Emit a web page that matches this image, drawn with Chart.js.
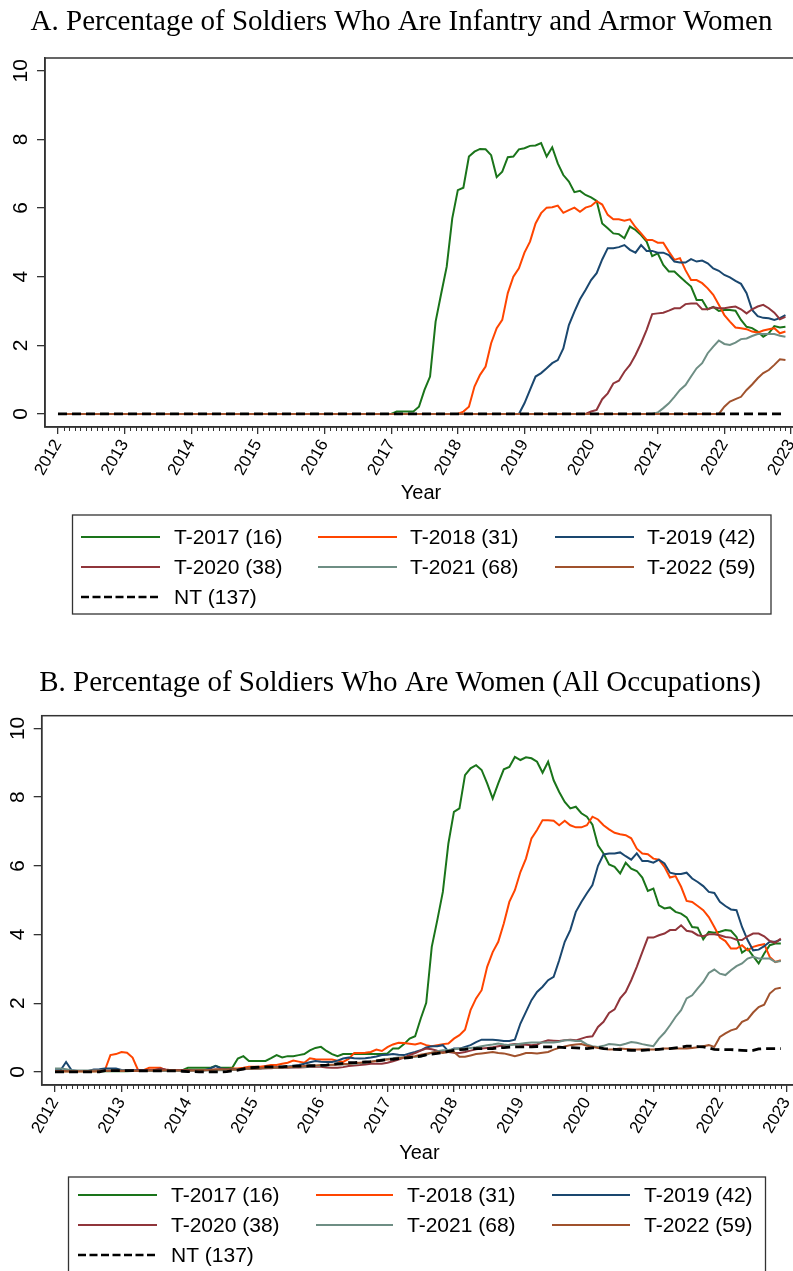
<!DOCTYPE html>
<html>
<head>
<meta charset="utf-8">
<script src="https://cdn.jsdelivr.net/npm/chart.js@4.4.0/dist/chart.umd.min.js"></script>
<style>
html,body{margin:0;padding:0;background:#fff;overflow:hidden;}
#wrap{width:793px;height:1271px;overflow:hidden;position:relative;}
canvas{display:block;}
</style>
</head>
<body>
<div id="wrap">
<canvas id="chartA" width="820" height="625"></canvas>
<canvas id="chartB" width="820" height="646"></canvas>
</div>
<script>
// tick labels
const yearTicks=[2012,2013,2014,2015,2016,2017,2018,2019,2020,2021,2022,2023];
const yearLabels=['2012','2013','2014','2015','2016','2017','2018','2019','2020','2021','2022','2023'];
const valueTicks=[0,2,4,6,8,10];
const valueLabels=['0','2','4','6','8','10'];

const seriesNames=['T-2017 (16)','T-2018 (31)','T-2019 (42)','T-2020 (38)','T-2021 (68)','T-2022 (59)','NT (137)'];
const seriesColors=['#1a741a','#ff4500','#1a476f','#90353b','#6e8e84','#a0522d','#000000'];

// monthly points, Jan 2012 .. Dec 2022, as decimal years
const monthPos=[];
for(let y=2012;y<=2022;y++){
    for(let m=0;m<12;m++){
        monthPos.push(y+m/12);
    }
}

// Panel A: infantry and armor women (%)
const infT2017=[
0,0,0,0,0,0,0,0,0,0,0,0,
0,0,0,0,0,0,0,0,0,0,0,0,
0,0,0,0,0,0,0,0,0,0,0,0,
0,0,0,0,0,0,0,0,0,0,0,0,
0,0,0,0,0,0,0,0,0,0,0,0,
0,0.07,0.07,0.07,0.07,0.21,0.7,1.09,2.69,3.5,4.29,5.7,
6.52,6.59,7.5,7.64,7.72,7.71,7.54,6.9,7.06,7.48,7.5,7.71,
7.74,7.81,7.82,7.89,7.5,7.77,7.3,6.96,6.77,6.46,6.5,6.38,
6.31,6.21,5.55,5.41,5.26,5.24,5.12,5.46,5.36,5.21,5.02,4.6,
4.68,4.34,4.15,4.15,4.0,3.85,3.71,3.32,3.32,3.05,3.12,3.0,
3.03,3.03,3.01,2.74,2.54,2.5,2.4,2.25,2.35,2.56,2.52,2.54];
const infT2018=[
0,0,0,0,0,0,0,0,0,0,0,0,
0,0,0,0,0,0,0,0,0,0,0,0,
0,0,0,0,0,0,0,0,0,0,0,0,
0,0,0,0,0,0,0,0,0,0,0,0,
0,0,0,0,0,0,0,0,0,0,0,0,
0,0,0,0,0,0,0,0,0,0,0,0,
0,0.07,0.21,0.8,1.14,1.38,2.06,2.5,2.74,3.52,4.0,4.24,
4.7,5.02,5.55,5.85,6.01,6.02,6.07,5.86,5.94,6.01,5.89,6.01,
6.06,6.2,6.1,5.8,5.67,5.67,5.63,5.67,5.44,5.26,5.07,5.07,
4.99,4.99,4.73,4.49,4.54,4.19,3.9,3.9,3.81,3.66,3.47,3.18,
2.88,2.69,2.52,2.5,2.47,2.4,2.37,2.43,2.47,2.5,2.35,2.4];
const infT2019=[
0,0,0,0,0,0,0,0,0,0,0,0,
0,0,0,0,0,0,0,0,0,0,0,0,
0,0,0,0,0,0,0,0,0,0,0,0,
0,0,0,0,0,0,0,0,0,0,0,0,
0,0,0,0,0,0,0,0,0,0,0,0,
0,0,0,0,0,0,0,0,0,0,0,0,
0,0,0,0,0,0,0,0,0,0,0,0,
0.31,0.7,1.09,1.19,1.33,1.48,1.57,1.91,2.59,2.98,3.34,3.61,
3.9,4.1,4.5,4.83,4.83,4.86,4.92,4.78,4.7,4.92,4.75,4.75,
4.7,4.7,4.63,4.44,4.41,4.41,4.51,4.44,4.47,4.39,4.24,4.17,
4.05,3.98,3.88,3.79,3.52,3.03,2.85,2.8,2.79,2.74,2.79,2.88];
const infT2020=[
0,0,0,0,0,0,0,0,0,0,0,0,
0,0,0,0,0,0,0,0,0,0,0,0,
0,0,0,0,0,0,0,0,0,0,0,0,
0,0,0,0,0,0,0,0,0,0,0,0,
0,0,0,0,0,0,0,0,0,0,0,0,
0,0,0,0,0,0,0,0,0,0,0,0,
0,0,0,0,0,0,0,0,0,0,0,0,
0,0,0,0,0,0,0,0,0,0,0,0,
0.07,0.12,0.43,0.6,0.89,0.97,1.23,1.43,1.72,2.06,2.45,2.91,
2.93,2.95,3.01,3.08,3.08,3.2,3.22,3.22,3.05,3.05,3.11,3.08,
3.08,3.11,3.13,3.05,2.93,3.05,3.13,3.18,3.08,2.95,2.76,2.83];
const infT2021=[
0,0,0,0,0,0,0,0,0,0,0,0,
0,0,0,0,0,0,0,0,0,0,0,0,
0,0,0,0,0,0,0,0,0,0,0,0,
0,0,0,0,0,0,0,0,0,0,0,0,
0,0,0,0,0,0,0,0,0,0,0,0,
0,0,0,0,0,0,0,0,0,0,0,0,
0,0,0,0,0,0,0,0,0,0,0,0,
0,0,0,0,0,0,0,0,0,0,0,0,
0,0,0,0,0,0,0,0,0,0,0,0,
0.04,0.17,0.31,0.5,0.7,0.84,1.09,1.33,1.48,1.77,1.96,2.14,
2.04,2.01,2.08,2.18,2.2,2.27,2.33,2.33,2.33,2.33,2.28,2.25];
const infT2022=[
0,0,0,0,0,0,0,0,0,0,0,0,
0,0,0,0,0,0,0,0,0,0,0,0,
0,0,0,0,0,0,0,0,0,0,0,0,
0,0,0,0,0,0,0,0,0,0,0,0,
0,0,0,0,0,0,0,0,0,0,0,0,
0,0,0,0,0,0,0,0,0,0,0,0,
0,0,0,0,0,0,0,0,0,0,0,0,
0,0,0,0,0,0,0,0,0,0,0,0,
0,0,0,0,0,0,0,0,0,0,0,0,
0,0,0,0,0,0,0,0,0,0,0,0,
0.21,0.36,0.43,0.5,0.7,0.86,1.04,1.19,1.28,1.43,1.59,1.57];
const infNT=[
0,0,0,0,0,0,0,0,0,0,0,0,
0,0,0,0,0,0,0,0,0,0,0,0,
0,0,0,0,0,0,0,0,0,0,0,0,
0,0,0,0,0,0,0,0,0,0,0,0,
0,0,0,0,0,0,0,0,0,0,0,0,
0,0,0,0,0,0,0,0,0,0,0,0,
0,0,0,0,0,0,0,0,0,0,0,0,
0,0,0,0,0,0,0,0,0,0,0,0,
0,0,0,0,0,0,0,0,0,0,0,0,
0,0,0,0,0,0,0,0,0,0,0,0,
0,0,0,0,0,0,0,0,0,0,0,0];

// Panel B: women, all occupations (%)
const allT2017=[
0.02,0.02,0.02,0.02,0.02,0.02,0.02,0.02,0.02,0.02,0.02,0.02,
0.02,0.02,0.03,0.03,0.03,0.03,0.03,0.03,0.03,0.03,0.03,0.05,
0.12,0.12,0.12,0.12,0.12,0.18,0.12,0.12,0.12,0.39,0.46,0.32,
0.32,0.32,0.32,0.4,0.49,0.42,0.46,0.46,0.49,0.52,0.63,0.7,
0.73,0.61,0.52,0.46,0.52,0.52,0.52,0.52,0.52,0.52,0.52,0.52,
0.54,0.68,0.68,0.81,0.97,1.04,1.55,2.01,3.64,4.42,5.24,6.65,
7.57,7.67,8.64,8.84,8.93,8.79,8.4,7.96,8.4,8.81,8.88,9.17,
9.08,9.16,9.13,9.03,8.71,9.03,8.49,8.15,7.86,7.67,7.72,7.53,
7.43,7.2,6.6,6.36,6.04,5.97,5.78,6.09,5.92,5.85,5.66,5.27,
5.34,4.85,4.76,4.79,4.66,4.61,4.5,4.22,4.2,3.86,4.08,4.05,
4.08,4.13,4.11,3.93,3.47,3.59,3.37,3.16,3.45,3.69,3.74,3.74];
const allT2018=[
0.02,0.02,0.02,0.02,0.02,0.02,0.02,0.02,0.02,0.05,0.49,0.52,
0.58,0.56,0.42,0.05,0.05,0.12,0.12,0.12,0.05,0.06,0.06,0.06,
0.06,0.06,0.06,0.06,0.06,0.06,0.06,0.08,0.1,0.1,0.12,0.15,
0.15,0.15,0.17,0.2,0.2,0.24,0.27,0.33,0.3,0.27,0.4,0.37,
0.36,0.36,0.36,0.33,0.29,0.38,0.55,0.55,0.56,0.58,0.65,0.61,
0.72,0.8,0.85,0.84,0.82,0.8,0.84,0.78,0.75,0.78,0.81,0.83,
0.97,1.07,1.23,1.8,2.14,2.38,3.06,3.49,3.79,4.32,4.95,5.29,
5.82,6.21,6.8,7.04,7.33,7.33,7.31,7.18,7.31,7.18,7.12,7.12,
7.18,7.43,7.35,7.18,7.06,6.96,6.92,6.89,6.8,6.5,6.36,6.34,
6.21,6.18,5.97,5.66,5.7,5.39,4.98,4.95,4.83,4.71,4.51,4.22,
3.91,3.81,3.59,3.59,3.69,3.54,3.64,3.69,3.72,3.35,3.2,3.25];
const allT2019=[
0.05,0.05,0.29,0.05,0.03,0.03,0.03,0.07,0.08,0.1,0.1,0.1,
0.06,0.05,0.05,0.05,0.05,0.05,0.05,0.05,0.05,0.04,0.04,0.05,
0.05,0.05,0.05,0.05,0.1,0.17,0.1,0.08,0.08,0.08,0.08,0.1,
0.1,0.11,0.12,0.14,0.14,0.15,0.16,0.17,0.2,0.24,0.28,0.32,
0.3,0.29,0.29,0.33,0.39,0.42,0.4,0.39,0.4,0.42,0.45,0.49,
0.5,0.52,0.5,0.49,0.54,0.58,0.63,0.71,0.75,0.75,0.78,0.6,
0.68,0.68,0.73,0.78,0.87,0.94,0.94,0.94,0.92,0.9,0.9,0.94,
1.41,1.75,2.09,2.33,2.48,2.67,2.77,3.25,3.79,4.13,4.66,4.95,
5.2,5.44,6.0,6.33,6.36,6.36,6.39,6.28,6.18,6.36,6.14,6.14,
6.09,6.18,6.07,5.8,5.76,5.76,5.8,5.63,5.53,5.41,5.24,5.21,
4.95,4.83,4.73,4.71,4.22,3.84,3.54,3.56,3.66,3.79,3.79,3.85];
const allT2020=[
0.03,0.03,0.03,0.03,0.03,0.03,0.03,0.04,0.04,0.04,0.04,0.04,
0.04,0.04,0.04,0.04,0.04,0.05,0.06,0.1,0.07,0.05,0.04,0.05,
0.05,0.05,0.05,0.06,0.06,0.07,0.07,0.06,0.06,0.07,0.08,0.09,
0.1,0.1,0.11,0.11,0.12,0.12,0.12,0.13,0.13,0.14,0.15,0.16,
0.15,0.13,0.12,0.12,0.14,0.17,0.19,0.2,0.22,0.24,0.24,0.24,
0.27,0.31,0.36,0.42,0.49,0.55,0.62,0.68,0.66,0.62,0.6,0.58,
0.56,0.55,0.58,0.62,0.66,0.68,0.7,0.72,0.75,0.78,0.79,0.81,
0.8,0.79,0.78,0.8,0.87,0.92,0.91,0.9,0.92,0.94,0.92,0.97,
1.02,1.04,1.31,1.46,1.72,1.82,2.14,2.33,2.67,3.06,3.49,3.91,
3.91,3.98,4.03,4.13,4.13,4.27,4.11,4.08,3.98,3.95,4.01,4.01,
3.98,3.93,3.91,3.85,3.84,3.95,4.03,4.03,3.95,3.81,3.76,3.88];
const allT2021=[
0.1,0.1,0.08,0.05,0.04,0.04,0.04,0.04,0.04,0.04,0.04,0.04,
0.04,0.04,0.03,0.03,0.03,0.03,0.03,0.03,0.03,0.03,0.03,0.03,
0.03,0.04,0.04,0.04,0.05,0.05,0.05,0.06,0.06,0.07,0.08,0.09,
0.1,0.1,0.11,0.12,0.12,0.13,0.14,0.14,0.15,0.15,0.16,0.17,
0.18,0.19,0.2,0.21,0.22,0.23,0.24,0.25,0.27,0.3,0.33,0.36,
0.38,0.4,0.42,0.42,0.43,0.44,0.44,0.5,0.56,0.6,0.63,0.64,
0.66,0.68,0.68,0.7,0.72,0.75,0.78,0.8,0.83,0.8,0.78,0.8,
0.82,0.84,0.86,0.86,0.86,0.86,0.86,0.88,0.92,0.92,0.9,0.9,
0.8,0.75,0.73,0.76,0.81,0.8,0.78,0.82,0.87,0.85,0.81,0.78,
0.75,0.97,1.14,1.36,1.6,1.8,2.14,2.23,2.43,2.62,2.88,2.98,
2.86,2.82,2.96,3.08,3.16,3.3,3.35,3.3,3.3,3.3,3.2,3.23];
const allT2022=[
0.02,0.02,0.02,0.02,0.02,0.02,0.02,0.02,0.03,0.03,0.03,0.03,
0.03,0.03,0.03,0.03,0.03,0.04,0.04,0.04,0.05,0.05,0.04,0.04,
0.04,0.04,0.05,0.05,0.06,0.07,0.08,0.07,0.07,0.08,0.09,0.1,
0.1,0.11,0.12,0.13,0.13,0.14,0.14,0.15,0.16,0.17,0.18,0.19,
0.2,0.2,0.21,0.22,0.23,0.24,0.26,0.27,0.28,0.3,0.32,0.34,
0.36,0.38,0.4,0.42,0.44,0.46,0.5,0.53,0.56,0.58,0.55,0.58,
0.58,0.44,0.44,0.48,0.52,0.54,0.56,0.58,0.55,0.54,0.5,0.46,
0.5,0.55,0.55,0.54,0.56,0.58,0.65,0.7,0.74,0.78,0.8,0.81,
0.76,0.73,0.7,0.68,0.65,0.66,0.68,0.67,0.66,0.65,0.66,0.65,
0.65,0.66,0.68,0.68,0.68,0.68,0.68,0.7,0.72,0.75,0.78,0.73,
1.02,1.12,1.21,1.26,1.46,1.53,1.73,1.89,1.96,2.28,2.42,2.45];
const allNT=[
0,0,0,0,0,0,0,0,0,0.04,0.04,0.04,
0.04,0.04,0.04,0.03,0.03,0.03,0.03,0.03,0.03,0.03,0.03,0.02,
0.01,0.01,0,0,0,0,0,0.01,0.03,0.05,0.09,0.12,
0.13,0.14,0.15,0.15,0.15,0.15,0.16,0.17,0.17,0.17,0.18,0.18,
0.19,0.2,0.22,0.24,0.25,0.27,0.27,0.28,0.29,0.3,0.32,0.34,
0.36,0.37,0.39,0.4,0.42,0.44,0.46,0.5,0.52,0.54,0.57,0.6,
0.63,0.65,0.66,0.68,0.68,0.68,0.68,0.68,0.7,0.71,0.72,0.73,
0.73,0.73,0.73,0.74,0.73,0.73,0.73,0.72,0.71,0.71,0.7,0.69,
0.68,0.7,0.71,0.68,0.67,0.66,0.65,0.64,0.63,0.63,0.63,0.64,
0.65,0.66,0.67,0.68,0.7,0.72,0.75,0.75,0.74,0.73,0.7,0.66,
0.65,0.65,0.65,0.64,0.63,0.62,0.63,0.67,0.68,0.68,0.68,0.68];

const sansFont='"Liberation Sans", Arial, Helvetica, sans-serif';
const serifFont='"Liberation Serif", "Times New Roman", serif';

// full frame round the plot area
const framePlugin={
    id:'frame',
    afterDraw(chart){
        const {ctx,chartArea:a}=chart;
        ctx.save();
        ctx.strokeStyle='#333';
        ctx.lineWidth=1.5;
        ctx.strokeRect(a.left,a.top,a.right-a.left,a.bottom-a.top);
        ctx.restore();
    }
};

// short monthly ticks under the x axis
const minorTickPlugin={
    id:'minorTicks',
    afterDraw(chart){
        const ctx=chart.ctx;
        const xs=chart.scales.x;
        const b=chart.chartArea.bottom;
        ctx.save();
        ctx.strokeStyle='#333';
        ctx.lineWidth=1;
        ctx.beginPath();
        monthPos.forEach((v,i)=>{
            if(i%12===0) return;
            const px=Math.round(xs.getPixelForValue(v))+0.5;
            ctx.moveTo(px,b);
            ctx.lineTo(px,b+4);
        });
        ctx.stroke();
        ctx.restore();
    }
};

function legendPlugin(L){
    return {
        id:'legendBox',
        afterDraw(chart){
            const ctx=chart.ctx;
            ctx.save();
            ctx.strokeStyle='#333';
            ctx.lineWidth=1.3;
            ctx.strokeRect(L.x,L.y,L.w,L.h);
            ctx.font='21px '+sansFont;
            ctx.textBaseline='middle';
            ctx.textAlign='left';
            seriesNames.forEach((name,k)=>{
                const c=L.cols[k%3];
                const y=L.rows[Math.floor(k/3)];
                ctx.beginPath();
                ctx.strokeStyle=seriesColors[k];
                ctx.lineWidth=k===6?2.5:2;
                ctx.setLineDash(k===6?[8,3.5]:[]);
                ctx.moveTo(c[0],y);
                ctx.lineTo(c[1],y);
                ctx.stroke();
                ctx.setLineDash([]);
                ctx.fillStyle='#000';
                ctx.fillText(name,c[2],y+1);
            });
            ctx.restore();
        }
    };
}

function buildChart(id,titleText,series,box){
    const datasets=series.map((vals,k)=>({
        label:seriesNames[k],
        data:vals,
        borderColor:seriesColors[k],
        borderWidth:k===6?2.8:2,
        borderDash:k===6?[9,5]:[],
        pointRadius:0,
        tension:0,
        fill:false,
        order:k===6?0:7-k
    }));
    return new Chart(document.getElementById(id).getContext('2d'),{
        type:'line',
        data:{labels:monthPos,datasets:datasets},
        options:{
            responsive:false,
            animation:false,
            devicePixelRatio:1,
            // right padding puts the plot's right edge at x=797, just outside the page
            layout:{padding:{left:box.padLeft,right:23,top:0,bottom:box.padBottom}},
            plugins:{
                legend:{display:false},
                tooltip:{enabled:false},
                title:{
                    display:true,
                    text:titleText,
                    color:'#000',
                    font:{family:serifFont,size:29,weight:'normal',lineHeight:1.2},
                    padding:{top:box.titleTop,bottom:box.titleBottom}
                }
            },
            scales:{
                x:{
                    type:'linear',
                    min:box.xMin,
                    max:box.xMax,
                    afterBuildTicks:(s)=>{s.ticks=yearTicks.map(v=>({value:v}));},
                    afterFit:(s)=>{s.height=box.xAxisH;},
                    ticks:{
                        autoSkip:false,
                        minRotation:60,
                        maxRotation:60,
                        padding:2,
                        color:'#000',
                        font:{family:sansFont,size:17},
                        callback:(v,i)=>yearLabels[i]
                    },
                    grid:{drawOnChartArea:false,drawTicks:true,tickLength:7,color:'#333',lineWidth:1.3},
                    border:{display:true,color:'#333',width:1.5},
                    title:{display:true,text:'Year',color:'#000',font:{family:sansFont,size:20},padding:{top:0,bottom:0}}
                },
                y:{
                    min:-0.38,
                    max:10.37,
                    afterBuildTicks:(s)=>{s.ticks=valueTicks.map(v=>({value:v}));},
                    afterFit:(s)=>{s.width=box.yAxisW;},
                    ticks:{
                        autoSkip:false,
                        minRotation:90,
                        maxRotation:90,
                        crossAlign:'center',
                        padding:4,
                        color:'#000',
                        font:{family:sansFont,size:21},
                        callback:(v,i)=>valueLabels[i]
                    },
                    grid:{drawOnChartArea:false,tickLength:8,color:'#333',lineWidth:1.3},
                    border:{display:true,color:'#333',width:1.5}
                }
            }
        },
        plugins:[framePlugin,minorTickPlugin,legendPlugin(box.legend)]
    });
}

buildChart('chartA','A. Percentage of Soldiers Who Are Infantry and Armor Women',
    [infT2017,infT2018,infT2019,infT2020,infT2021,infT2022,infNT],
    {xMin:2011.805,xMax:2023.09,padLeft:6,yAxisW:39,xAxisH:78,padBottom:120,titleTop:4.6,titleBottom:18.6,
     legend:{x:72.5,y:515,w:698.5,h:99,rows:[537,567,597],cols:[[81,160,174],[318,397,410],[555,634,647]]}});

buildChart('chartB','B. Percentage of Soldiers Who Are Women (All Occupations)',
    [allT2017,allT2018,allT2019,allT2020,allT2021,allT2022,allNT],
    {xMin:2011.8,xMax:2023.16,padLeft:3,yAxisW:38.7,xAxisH:80,padBottom:106,titleTop:40.6,titleBottom:15.3,
     legend:{x:68.5,y:552,w:697,h:120,rows:[570,600,630],cols:[[78,157,171],[316,393,407],[552,630,644]]}});
</script>
</body>
</html>
